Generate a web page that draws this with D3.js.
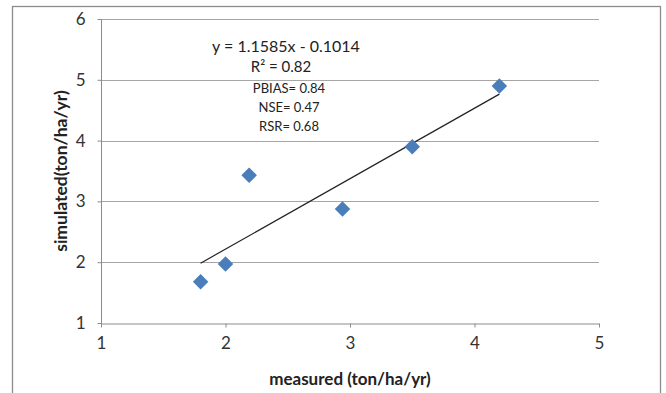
<!DOCTYPE html>
<html>
<head>
<meta charset="utf-8">
<script src="https://cdn.jsdelivr.net/npm/d3@7"></script>
<style>
  body { margin: 0; background: #fff; }
  svg { display: block; font-family: Lato, "Open Sans", sans-serif; }
</style>
</head>
<body>
<svg id="chart" width="666" height="393"></svg>
<script>
// measured vs simulated (ton/ha/yr)
const measured = [1.8, 2.0, 2.19, 2.94, 3.5, 4.2];
const simulated = [1.68, 1.97, 3.43, 2.875, 3.9, 4.9];
const xTicks = [1, 2, 3, 4, 5];
const yTicks = [1, 2, 3, 4, 5, 6];
// trendline shown on the chart
const slope = 1.1585;
const intercept = -0.1014;
const stats = ['R² = 0.82', 'PBIAS= 0.84', 'NSE= 0.47', 'RSR= 0.68'];

const svg = d3.select('#chart');

// outer chart border
svg.append('rect')
  .attr('x', 12.5).attr('y', 6.5)
  .attr('width', 648).attr('height', 400)
  .attr('fill', 'none').attr('stroke', '#8c8c8c').attr('stroke-width', 1.3);

const x = d3.scaleLinear().domain([1, 5]).range([101, 599]);
const y = d3.scaleLinear().domain([1, 6]).range([323, 19]);

// horizontal gridlines
svg.append('g')
  .selectAll('line')
  .data(yTicks.slice(1))
  .enter()
  .append('line')
  .attr('x1', x(1)).attr('x2', x(5))
  .attr('y1', d => Math.round(y(d)) + 0.5)
  .attr('y2', d => Math.round(y(d)) + 0.5)
  .attr('stroke', '#a6a6a6');

// axes
const xAxis = svg.append('g')
  .attr('transform', `translate(0,${Math.round(y(1)) + 0.5})`)
  .call(d3.axisBottom(x).tickValues(xTicks).tickSize(4).tickPadding(9).tickSizeOuter(0).tickFormat(d3.format('d')));

const yAxis = svg.append('g')
  .attr('transform', `translate(${Math.round(x(1)) + 0.5},0)`)
  .call(d3.axisLeft(y).tickValues(yTicks).tickSize(4).tickPadding(12).tickSizeOuter(0).tickFormat(d3.format('d')));

[xAxis, yAxis].forEach(g => {
  g.select('.domain').attr('stroke', '#8c8c8c');
  g.selectAll('.tick line').attr('stroke', '#8c8c8c');
  g.selectAll('.tick text')
    .attr('fill', '#333')
    .style('font-size', '17px')
    .style('font-family', 'Lato, "Open Sans", sans-serif');
});
// y axis extends a bit below the x axis
yAxis.select('.domain').attr('d', `M0,${y(6)}V${y(1) + 4}`);

// trendline over the measured range
const x0 = d3.min(measured), x1 = d3.max(measured);
svg.append('line')
  .attr('x1', x(x0)).attr('y1', y(slope * x0 + intercept))
  .attr('x2', x(x1)).attr('y2', y(slope * x1 + intercept))
  .attr('stroke', '#222').attr('stroke-width', 1.2);

// diamond markers
const diamond = d3.symbol().type(d3.symbolSquare).size(120);
svg.append('g')
  .selectAll('path')
  .data(measured.map((m, i) => [m, simulated[i]]))
  .enter()
  .append('path')
  .attr('d', diamond)
  .attr('transform', d => `translate(${x(d[0])},${y(d[1])}) rotate(45)`)
  .attr('fill', '#4a7ebb');

// equation and statistics
svg.append('text')
  .attr('x', 286).attr('y', 52)
  .attr('text-anchor', 'middle')
  .style('font-size', '16px')
  .attr('fill', '#222')
  .text(`y = ${slope}x - ${Math.abs(intercept)}`);

svg.append('g')
  .selectAll('text')
  .data(stats)
  .enter()
  .append('text')
  .attr('x', (d, i) => i === 0 ? 281 : 289)
  .attr('y', (d, i) => [72, 93, 112, 131][i])
  .attr('text-anchor', 'middle')
  .style('font-size', (d, i) => i === 0 ? '15px' : '13px')
  .attr('fill', '#222')
  .text(d => d);

// axis titles
svg.append('text')
  .attr('x', 350).attr('y', 385)
  .attr('text-anchor', 'middle')
  .style('font-size', '17px').style('font-weight', 'bold')
  .attr('fill', '#222')
  .text('measured (ton/ha/yr)');

svg.append('text')
  .attr('transform', 'translate(67,171) rotate(-90)')
  .attr('text-anchor', 'middle')
  .style('font-size', '17.5px').style('font-weight', 'bold')
  .attr('fill', '#222')
  .text('simulated(ton/ha/yr)');
</script>
</body>
</html>
